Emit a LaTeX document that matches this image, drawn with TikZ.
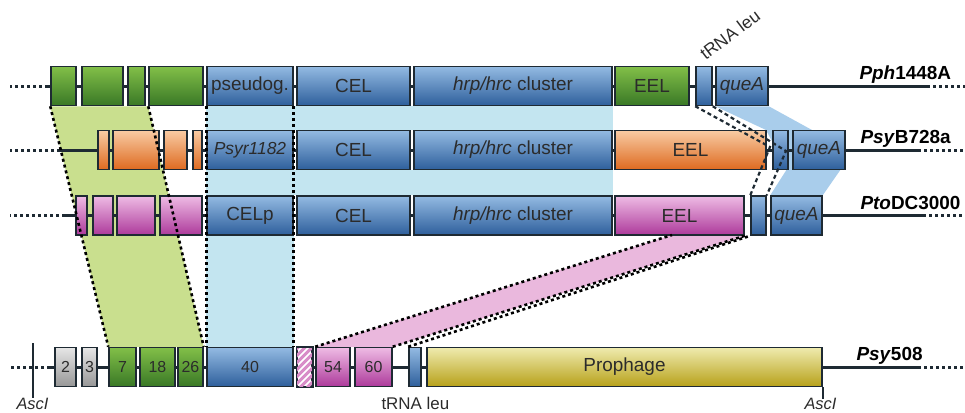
\documentclass[tikz,border=0pt]{standalone}
\usepackage{fontspec}
\setmainfont{Liberation Sans}
\usepackage{tikz}
\usetikzlibrary{backgrounds}
\definecolor{edge}{HTML}{1E2A33}
\definecolor{ink}{HTML}{2B2B2B}
\definecolor{grntop}{HTML}{82BF48}
\definecolor{grnbot}{HTML}{397826}
\definecolor{blutop}{HTML}{93BAE2}
\definecolor{blubot}{HTML}{2E5F9C}
\definecolor{orgtop}{HTML}{F8CBA3}
\definecolor{orgbot}{HTML}{DE6A20}
\definecolor{pnktop}{HTML}{EEBBE4}
\definecolor{pnkbot}{HTML}{AD3A9B}
\definecolor{grytop}{HTML}{E6E6E6}
\definecolor{grybot}{HTML}{979797}
\definecolor{olvtop}{HTML}{EFEBAE}
\definecolor{olvbot}{HTML}{B7A11A}
\definecolor{syngrn}{HTML}{C9DF8E}
\definecolor{syncyan}{HTML}{C3E5F0}
\definecolor{synblue}{HTML}{A9CDEB}
\definecolor{synpink}{HTML}{EAB8DD}
\definecolor{stripe}{HTML}{D88CC8}

\begin{document}
\begin{tikzpicture}[x=1bp,y=-1bp,
  every node/.style={text=ink,font=\fontsize{19}{22}\selectfont},
  gene/.style={draw=edge,line width=1.5bp,inner sep=0pt,minimum height=39bp},
  grnbox/.style={gene,top color=grntop,bottom color=grnbot},
  blubox/.style={gene,top color=blutop,bottom color=blubot},
  orgbox/.style={gene,top color=orgtop,bottom color=orgbot},
  pnkbox/.style={gene,top color=pnktop,bottom color=pnkbot},
  grybox/.style={gene,top color=grytop,bottom color=grybot},
  olvbox/.style={gene,top color=olvtop,bottom color=olvbot},
  num/.style={font=\fontsize{16}{19}\selectfont},
  small/.style={anchor=base west,font=\fontsize{17}{20}\selectfont},
  strain/.style={anchor=base west,text=black,font=\fontsize{19}{22}\selectfont\bfseries},
  backbone/.style={draw=edge,line width=3bp},
  tail/.style={draw=edge,line width=3bp,dash pattern=on 3bp off 3bp},
  synline/.style={draw=black,line width=2.6bp,dash pattern=on 3bp off 3bp},
  trnaline/.style={draw=edge,line width=2.2bp,dash pattern=on 4bp off 3bp}]
\useasboundingbox (0,0) rectangle (965,412);

% Pph1448A
\node[grnbox,minimum width=25bp] (g1) at (63.5,86) {};
\node[grnbox,minimum width=41bp] (g2) at (102.5,86) {};
\node[grnbox,minimum width=17bp] (g3) at (136.5,86) {};
\node[grnbox,minimum width=54bp] (g4) at (176,86) {};
\node[blubox,minimum width=86bp] (pseudo) at (250,86) {pseudog.};
\node[blubox,minimum width=113bp] (cel1) at (353.5,86) {CEL};
\node[blubox,minimum width=198bp] (hrp1) at (513,86) {\textit{hrp/hrc} cluster};
\node[grnbox,minimum width=74bp] (eel1) at (652,86) {EEL};
\node[blubox,minimum width=16bp] (trna1) at (704,86) {};
\node[blubox,minimum width=52bp] (quea1) at (742,86) {\textit{queA}};

% PsyB728a
\node[orgbox,minimum width=11bp] (o1) at (103.5,150) {};
\node[orgbox,minimum width=46bp] (o2) at (136,150) {};
\node[orgbox,minimum width=23bp] (o3) at (175.5,150) {};
\node[orgbox,minimum width=9bp] (o4) at (197.5,150) {};
\node[blubox,minimum width=86bp,font=\fontsize{17.5}{20}\selectfont] (psyr) at (250,150) {\textit{Psyr1182}};
\node[blubox,minimum width=113bp] (cel2) at (353.5,150) {CEL};
\node[blubox,minimum width=198bp] (hrp2) at (513,150) {\textit{hrp/hrc} cluster};
\node[orgbox,minimum width=151bp] (eel2) at (690.5,150) {EEL};
\node[blubox,minimum width=15bp] (trna2) at (780.5,150) {};
\node[blubox,minimum width=52bp] (quea2) at (819,150) {\textit{queA}};

% PtoDC3000
\node[pnkbox,minimum width=11bp] (p1) at (81.5,215.5) {};
\node[pnkbox,minimum width=20bp] (p2) at (103,215.5) {};
\node[pnkbox,minimum width=38bp] (p3) at (136,215.5) {};
\node[pnkbox,minimum width=42bp] (p4) at (181,215.5) {};
\node[blubox,minimum width=86bp] (celp) at (250,215.5) {CELp};
\node[blubox,minimum width=113bp] (cel3) at (353.5,215.5) {CEL};
\node[blubox,minimum width=198bp] (hrp3) at (513,215.5) {\textit{hrp/hrc} cluster};
\node[pnkbox,minimum width=129bp] (eel3) at (679.5,215.5) {EEL};
\node[blubox,minimum width=15bp] (trna3) at (758.5,215.5) {};
\node[blubox,minimum width=51bp] (quea3) at (796.5,215.5) {\textit{queA}};

% Psy508
\node[grybox,num,minimum width=21bp] (c2) at (65.5,367) {2};
\node[grybox,num,minimum width=15bp] (c3) at (89.5,367) {3};
\node[grnbox,num,minimum width=27bp] (c7) at (122.5,367) {7};
\node[grnbox,num,minimum width=35bp] (c18) at (157.5,367) {18};
\node[grnbox,num,minimum width=25bp] (c26) at (190.5,367) {26};
\node[blubox,num,minimum width=86bp] (c40) at (250,367) {40};
\node[gene,fill=white,minimum width=15bp] (hx) at (304.5,367) {};
\node[pnkbox,num,minimum width=34bp] (c54) at (333,367) {54};
\node[pnkbox,num,minimum width=37bp] (c60) at (373.5,367) {60};
\node[blubox,minimum width=12bp] (trna4) at (415,367) {};
\node[olvbox,minimum width=395bp] (proph) at (624.5,367) {Prophage};

% striped box
\begin{scope}
  \clip (hx.south west) rectangle (hx.north east);
  \foreach \s in {-45,-38,...,15}
    \draw[stripe,line width=3bp] ([xshift=\s bp]hx.south west) -- ++(45,-45);
\end{scope}
\draw[edge,line width=1.5bp] (hx.south west) rectangle (hx.north east);

% row ends
\coordinate (lm) at (10,0);
\coordinate (rm) at (965,0);
\coordinate (r1w) at (48,86);
\coordinate (r1e) at (927,86);
\coordinate (r2w) at (60,150);
\coordinate (r2e) at (918,150);
\coordinate (r3w) at (65,215.5);
\coordinate (r3e) at (923,215.5);
\coordinate (r4w) at (50,367);
\coordinate (r4e) at (918,367);
\coordinate (eelcut) at (672,235);
\coordinate (tk1) at (770,147);
\coordinate (tk2) at (786,151);
\coordinate (asc1) at (33,343);

\begin{pgfonlayer}{background}
  % conserved blocks
  \fill[syngrn] (g1.south west) -- (g4.south west) -- (c26.north east) -- (c7.north west) -- cycle;
  \fill[syncyan] (pseudo.south west) rectangle (c40.north east);
  \fill[syncyan] (pseudo.south west) rectangle (hrp2.north east);
  \fill[syncyan] (psyr.south west) rectangle (hrp3.north east);
  \fill[synblue] (quea1.south west) -- (quea1.south east) -- (812,130) -- (841,169)
    -- (quea3.north east) -- (quea3.north west) -- (787,169) -- (766,130) -- cycle;
  \fill[synpink] (c54.north west) -- (eelcut) -- (eel3.south east) -- (c60.north east) -- cycle;
  % chromosomes
  \foreach \r in {1,2,3,4} {
    \draw[backbone] (r\r w) -- (r\r e);
    \draw[tail] (r\r w) -- (r\r w -| lm);
    \draw[tail] (r\r e) -- (r\r e -| rm);
  }
\end{pgfonlayer}

% synteny borders
\draw[synline] (g1.south west) -- (c7.north west);
\draw[synline] (g4.south west) -- (c26.north east);
\draw[synline] (pseudo.south west) -- (c40.north west);
\draw[synline] (pseudo.south east) -- (c40.north east);
\draw[synline] (c54.north west) -- (eelcut);
\draw[synline] (c60.north east) -- (eel3.south east);
\draw[synline] (trna4.north west) -- (trna3.south west);
\draw[trnaline] (trna1.south west) -- (tk1) -- (trna3.north west);
\draw[trnaline] (trna1.south east) -- (tk2) -- (trna3.north east);

% AscI sites
\draw[edge,line width=1.5bp] (asc1) -- ++(0,55);
\draw[edge,line width=1.5bp] (proph.south east) -- ++(0,12);

% labels
\node[strain] (s1) at (856,79.5) {\textit{Pph}1448A};
\node[strain] (s2) at (857,143.5) {\textit{Psy}B728a};
\node[strain] (s3) at (857,209) {\textit{Pto}DC3000};
\node[strain] (s4) at (853,360.5) {\textit{Psy}508};
\node[small,rotate=37,font=\fontsize{17.5}{20}\selectfont] (tl1) at (703,63) {tRNA leu};
\node[small] (tl2) at (378,409) {tRNA leu};
\node[small,font=\fontsize{16.5}{19}\selectfont\itshape] (a1) at (13,409) {AscI};
\node[small,font=\fontsize{16.5}{19}\selectfont\itshape] (a2) at (801,409) {AscI};
\end{tikzpicture}
\end{document}
